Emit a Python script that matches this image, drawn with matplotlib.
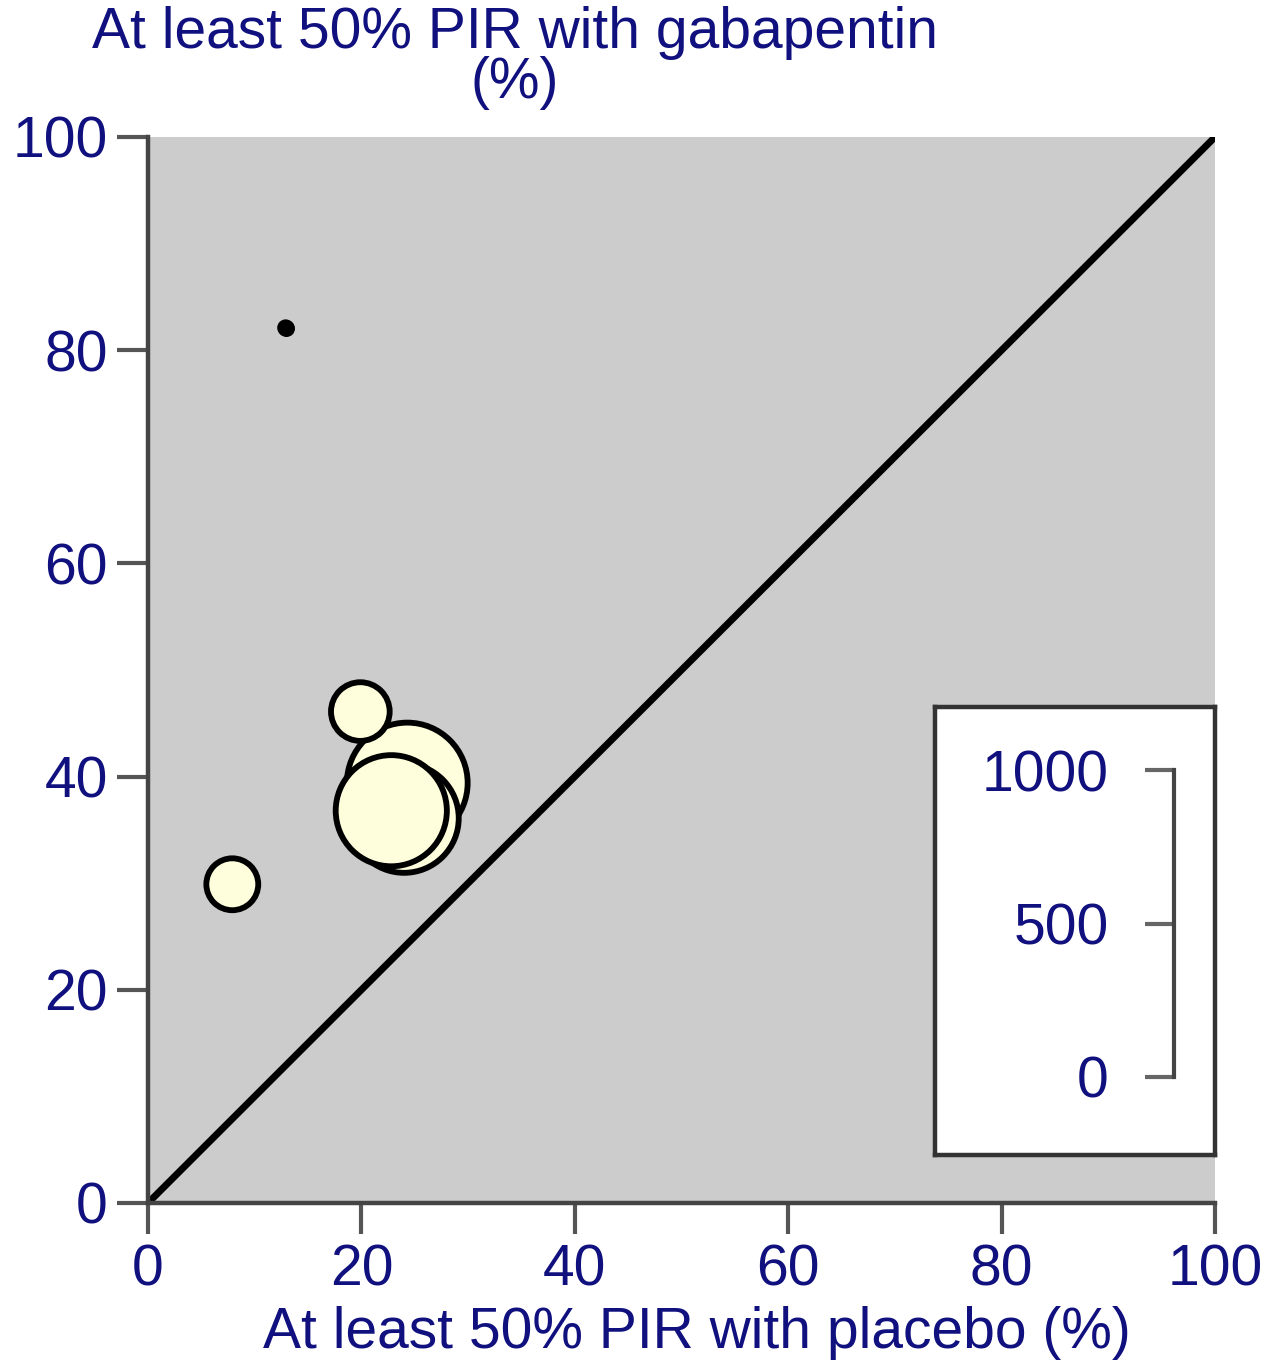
"""Bubble plot: responder rates, gabapentin vs placebo."""
import numpy as np
import matplotlib
matplotlib.use("Agg")
import matplotlib.pyplot as plt

plt.rcParams["font.family"] = ["Liberation Sans", "DejaVu Sans"]

# Trial data: placebo %, gabapentin %, participants
placebo_pct = [12.9, 24.3, 24.0, 22.8, 19.9, 7.9]
gaba_pct = [82.1, 39.4, 36.1, 36.8, 46.1, 29.9]
participants = [6, 720, 590, 610, 170, 133]

axis_ticks = [0, 20, 40, 60, 80, 100]
scale_ticks = [0, 500, 1000]

NAVY = "#10107f"
DPI = 100
FS = 41
PX_PER_SQRT_N = 4.5  # bubble diameter (px) per sqrt(participants)

fig = plt.figure(figsize=(12.7, 13.67), dpi=DPI)
ax = fig.add_axes([148 / 1270, 1 - 1203 / 1367, 1067 / 1270, 1066 / 1367])
ax.set_facecolor("#cccccc")
ax.set_xlim(0, 100)
ax.set_ylim(0, 100)

# line of equality
ax.plot([0, 100], [0, 100], color="black", lw=5, solid_capstyle="butt", zorder=2)

diam_pt = PX_PER_SQRT_N * np.sqrt(participants) * 72 / DPI
ax.scatter(placebo_pct, gaba_pct, s=diam_pt ** 2, facecolor="#fefedc",
           edgecolor="black", linewidth=4.2, zorder=3, clip_on=False)
# tiny trial shows as a black dot
ax.scatter(placebo_pct[0], gaba_pct[0], s=diam_pt[0] ** 2 * 2,
           color="black", zorder=4)

for side in ("top", "right"):
    ax.spines[side].set_visible(False)
for side in ("left", "bottom"):
    ax.spines[side].set_color("#444444")
    ax.spines[side].set_linewidth(3.2)
ax.set_xticks(axis_ticks)
ax.set_yticks(axis_ticks)
ax.tick_params(length=22, width=3, color="#555555", labelcolor=NAVY,
               labelsize=FS, pad=7)

fig.text(515 / 1270, 1 - 6 / 1367, "At least 50% PIR with gabapentin\n(%)",
         ha="center", va="top", color=NAVY, fontsize=FS, linespacing=0.9)
fig.text(697 / 1270, 1 - 1333 / 1367, "At least 50% PIR with placebo (%)",
         ha="center", va="center", color=NAVY, fontsize=FS)

# size legend box
box = fig.add_axes([935 / 1270, 1 - 1155 / 1367, 280 / 1270, 448 / 1367])
box.set_xticks([])
box.set_yticks([])
for sp in box.spines.values():
    sp.set_color("#333333")
    sp.set_linewidth(3.2)
box.set_facecolor("white")

scale = fig.add_axes([1174 / 1270, 1 - 1077 / 1367, 1 / 1270, 307 / 1367])
scale.patch.set_alpha(0)
scale.set_ylim(0, 1000)
scale.set_xticks([])
scale.set_yticks(scale_ticks)
for side in ("top", "right", "bottom"):
    scale.spines[side].set_visible(False)
scale.spines["left"].set_color("#444444")
scale.spines["left"].set_linewidth(3)
scale.tick_params(axis="y", length=21, width=3, color="#666666",
                  labelcolor=NAVY, labelsize=FS, pad=26)

fig.savefig("out.png", dpi=DPI)
